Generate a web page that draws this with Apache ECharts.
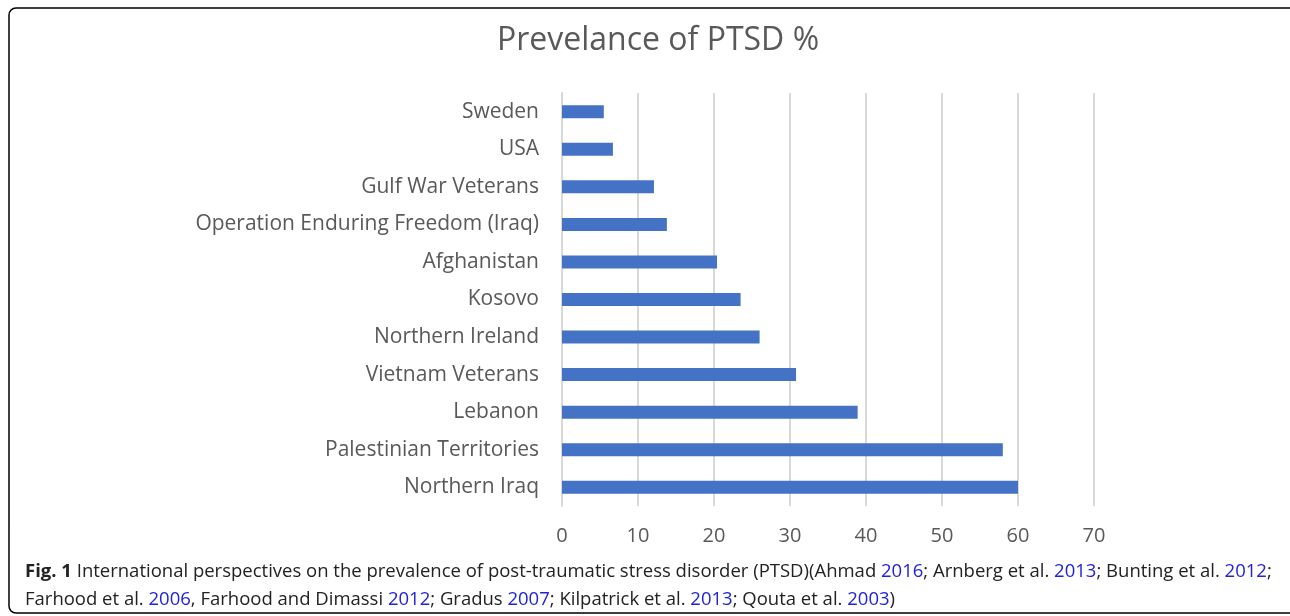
<!DOCTYPE html>
<html>
<head>
<meta charset="utf-8">
<script src="https://cdn.jsdelivr.net/npm/echarts@6/dist/echarts.min.js"></script>
<style>
html,body{margin:0;padding:0;background:#fff;}
#c{width:1290px;height:616px;}
</style>
</head>
<body>
<div id="c"></div>
<script>
const categories = ['Northern Iraq','Palestinian Territories','Lebanon','Vietnam Veterans','Northern Ireland','Kosovo','Afghanistan','Operation Enduring Freedom (Iraq)','Gulf War Veterans','USA','Sweden'];
const values = [60, 58, 38.9, 30.8, 26, 23.5, 20.4, 13.8, 12.1, 6.7, 5.5];
const xTicks = [0,10,20,30,40,50,60,70];
const titleText = 'Prevelance of PTSD %';

const capFont = '"Open Sans", sans-serif';
const chart = echarts.init(document.getElementById('c'), null, {renderer:'canvas'});
chart.setOption({
  animation:false,
  title:{text:titleText,left:492,top:20,textStyle:{fontFamily:'Open Sans',fontSize:32,fontWeight:'normal',color:'#595959'}},
  grid:{left:562,right:196,top:93,bottom:110,containLabel:false},
  xAxis:{type:'value',min:xTicks[0],max:xTicks[xTicks.length-1],interval:10,
    axisLine:{show:false},axisTick:{show:false},
    splitLine:{lineStyle:{color:'#d9d9d9',width:2}},
    axisLabel:{fontFamily:'Open Sans',fontSize:20,color:'#595959',margin:20}},
  yAxis:{type:'category',data:categories,
    axisLine:{lineStyle:{color:'#d9d9d9',width:2}},axisTick:{show:false},
    axisLabel:{fontFamily:'Open Sans',fontSize:21,color:'#595959',margin:23}},
  series:[{type:'bar',data:values,barWidth:13,itemStyle:{color:'#4472c4'}}],
  graphic:[
    {type:'rect',shape:{x:9,y:8,width:1300,height:605,r:7},style:{fill:'none',stroke:'#000',lineWidth:1.5},silent:true},
    {type:'text',left:25,top:558,style:{
      text:'{b|Fig. 1} International perspectives on the prevalence of post-traumatic stress disorder (PTSD)(Ahmad {y|2016}; Arnberg et al. {y|2013}; Bunting et al. {y|2012};\nFarhood et al. {y|2006}, Farhood and Dimassi {y|2012}; Gradus {y|2007}; Kilpatrick et al. {y|2013}; Qouta et al. {y|2003})',
      font:'18.5px '+capFont, fill:'#222', lineHeight:28,
      rich:{b:{fontWeight:'bold',fontFamily:capFont,fontSize:18.5,fill:'#222'},y:{fill:'#2222dd',fontFamily:capFont,fontSize:18.5}}
    }}
  ]
});
</script>
</body>
</html>
